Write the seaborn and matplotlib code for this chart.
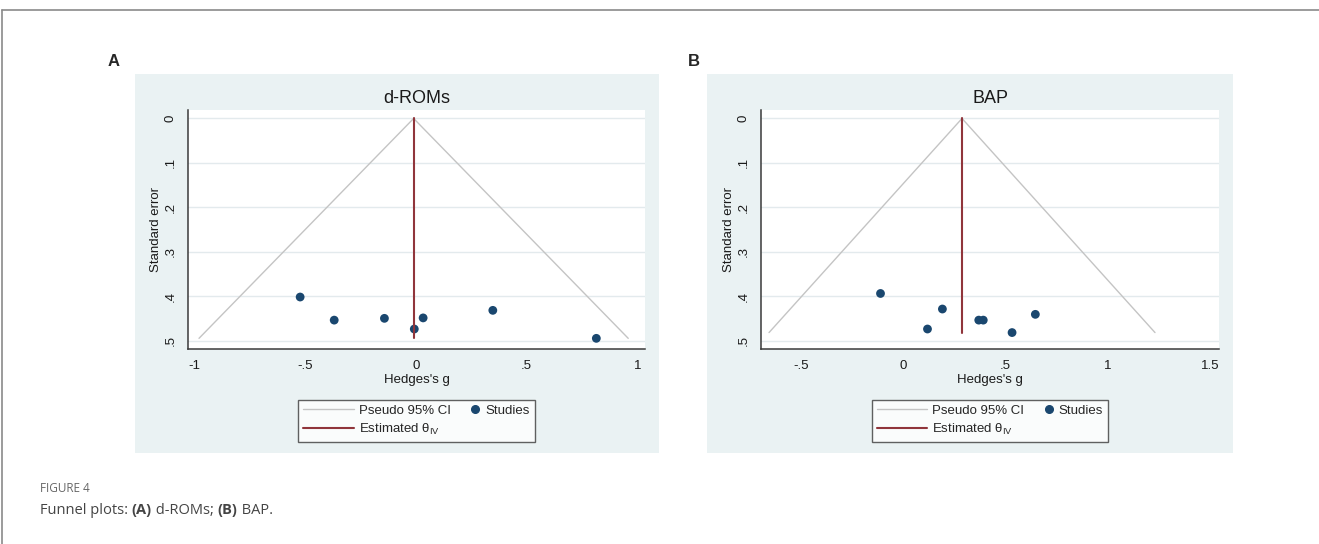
import numpy as np
import pandas as pd
import matplotlib
matplotlib.use("Agg")
import matplotlib.pyplot as plt
import seaborn as sns
from matplotlib.patches import Rectangle
from matplotlib.lines import Line2D
from matplotlib.legend_handler import HandlerLine2D

# (A) d-ROMs: Hedges's g and standard error per study
droms_g = [-0.524, -0.370, -0.143, -0.008, 0.032, 0.347, 0.815]
droms_se = [0.402, 0.454, 0.450, 0.474, 0.449, 0.432, 0.495]
droms_theta = -0.011

# (B) BAP
bap_g = [-0.112, 0.191, 0.118, 0.369, 0.391, 0.532, 0.646]
bap_se = [0.394, 0.429, 0.474, 0.454, 0.454, 0.482, 0.441]
bap_theta = 0.287

se_ticks = [0, 0.1, 0.2, 0.3, 0.4, 0.5]
se_labels = ["0", ".1", ".2", ".3", ".4", ".5"]
droms_xticks = [-1, -0.5, 0, 0.5, 1]
droms_xlabels = ["-1", "-.5", "0", ".5", "1"]
bap_xticks = [-0.5, 0, 0.5, 1, 1.5]
bap_xlabels = ["-.5", "0", ".5", "1", "1.5"]

NAVY = "#1a476f"
MAROON = "#90353b"
CI_GREY = "#c4c4c4"
BG = "#eaf2f3"
W, H = 1319, 544

sns.set_style("white")
plt.rcParams["font.family"] = ["Liberation Sans", "DejaVu Sans"]
plt.rcParams["mathtext.fontset"] = "custom"
plt.rcParams["mathtext.rm"] = "Liberation Sans"


class RightDot(HandlerLine2D):
    # put the marker near the right end of the handle box
    def get_xdata(self, legend, xdescent, ydescent, width, height, fontsize):
        x = np.array([width - xdescent - 0.35 * fontsize])
        return x, x


def px(x0, y0, x1, y1):
    return [x0 / W, 1 - y1 / H, (x1 - x0) / W, (y1 - y0) / H]


def funnel(ax, g, se, theta, xticks, xlabels, xlim, title):
    df = pd.DataFrame({"g": g, "se": se})
    top = df["se"].max()
    ax.plot([theta - 1.96 * top, theta, theta + 1.96 * top], [top, 0, top],
            color=CI_GREY, lw=1, zorder=2)
    sns.scatterplot(data=df, x="g", y="se", ax=ax, color=NAVY, s=40,
                    edgecolor="none", zorder=3)
    ax.plot([theta, theta], [0, top], color=MAROON, lw=1.5, zorder=4)

    ax.set_xlim(*xlim)
    ax.set_ylim(0.519, -0.019)
    ax.set_xticks(xticks, xlabels)
    ax.set_yticks(se_ticks, se_labels)
    ax.yaxis.grid(True, color="#e3eaed", lw=1)
    ax.xaxis.grid(False)
    for s in ["top", "right"]:
        ax.spines[s].set_visible(False)
    for s in ["left", "bottom"]:
        ax.spines[s].set_color("#3a3a3a")
        ax.spines[s].set_linewidth(1.1)
    ax.tick_params(direction="out", length=5, width=1, color="#3a3a3a",
                   labelsize=9.5, labelcolor="#1a1a1a", pad=3)
    ax.tick_params(axis="y", labelrotation=90)
    plt.setp(ax.get_yticklabels(), va="center")
    ax.set_xlabel("Hedges's g", fontsize=9.5, labelpad=1, color="#1a1a1a")
    ax.set_ylabel("Standard error", fontsize=9.5, labelpad=2, color="#1a1a1a")
    ax.set_title(title, fontsize=13, pad=5, color="#1a1a1a")

    handles = [
        Line2D([], [], color=CI_GREY, lw=1),
        Line2D([], [], color=MAROON, lw=1.5),
        Line2D([], [], ls="none", marker="o", ms=5.5, color=NAVY),
    ]
    labels = ["Pseudo 95% CI", r"Estimated θ$_{\mathrm{IV}}$", "Studies"]
    leg = ax.legend(handles, labels, ncol=2, loc="upper center",
                    bbox_to_anchor=(0.5, -0.184), fontsize=9.5,
                    handlelength=3.8, handletextpad=0.4, columnspacing=-1.6,
                    labelspacing=0.35, borderpad=0.4, fancybox=False,
                    frameon=True, handler_map={handles[2]: RightDot()})
    leg.get_frame().set_edgecolor("#3a3a3a")
    leg.get_frame().set_linewidth(1)
    leg.get_frame().set_facecolor("white")


fig = plt.figure(figsize=(W / 100, H / 100), dpi=100)

# grey graph regions
for x0, x1 in [(135, 659), (707, 1233)]:
    fig.add_artist(Rectangle((x0 / W, 1 - 453 / H), (x1 - x0) / W, 379 / H,
                             transform=fig.transFigure, facecolor=BG,
                             edgecolor="none", zorder=-5))

ax_a = fig.add_axes(px(188, 110, 645, 349))
ax_b = fig.add_axes(px(761, 110, 1219, 349))
funnel(ax_a, droms_g, droms_se, droms_theta, droms_xticks, droms_xlabels,
       (-1.031, 1.035), "d-ROMs")
funnel(ax_b, bap_g, bap_se, bap_theta, bap_xticks, bap_xlabels,
       (-0.697, 1.545), "BAP")

fig.text(114 / W, 1 - 62 / H, "A", fontsize=12, fontweight="bold",
         ha="center", va="center")
fig.text(694 / W, 1 - 62 / H, "B", fontsize=12, fontweight="bold",
         ha="center", va="center")

# page frame
fig.add_artist(Line2D([2 / W, 1], [1 - 10 / H, 1 - 10 / H], color="#8a8a8a",
                      lw=1.2, transform=fig.transFigure))
fig.add_artist(Line2D([2 / W, 2 / W], [0, 1 - 10 / H], color="#8a8a8a",
                      lw=1.2, transform=fig.transFigure))

# caption
cap_font = ["Open Sans", "DejaVu Sans"]
fig.text(40 / W, 1 - 488 / H, "FIGURE 4", fontsize=8.5, color="#666666",
         family=cap_font, va="center")
renderer = fig.canvas.get_renderer()
x = 40 / W
for s, w in [("Funnel plots: ", "normal"), ("(A)", "bold"),
             (" d-ROMs; ", "normal"), ("(B)", "bold"), (" BAP.", "normal")]:
    t = fig.text(x, 1 - 510 / H, s, fontsize=10.5, fontweight=w,
                 color="#444444", family=cap_font, va="center")
    x += t.get_window_extent(renderer=renderer).width / W

fig.savefig("out.png", dpi=100)
